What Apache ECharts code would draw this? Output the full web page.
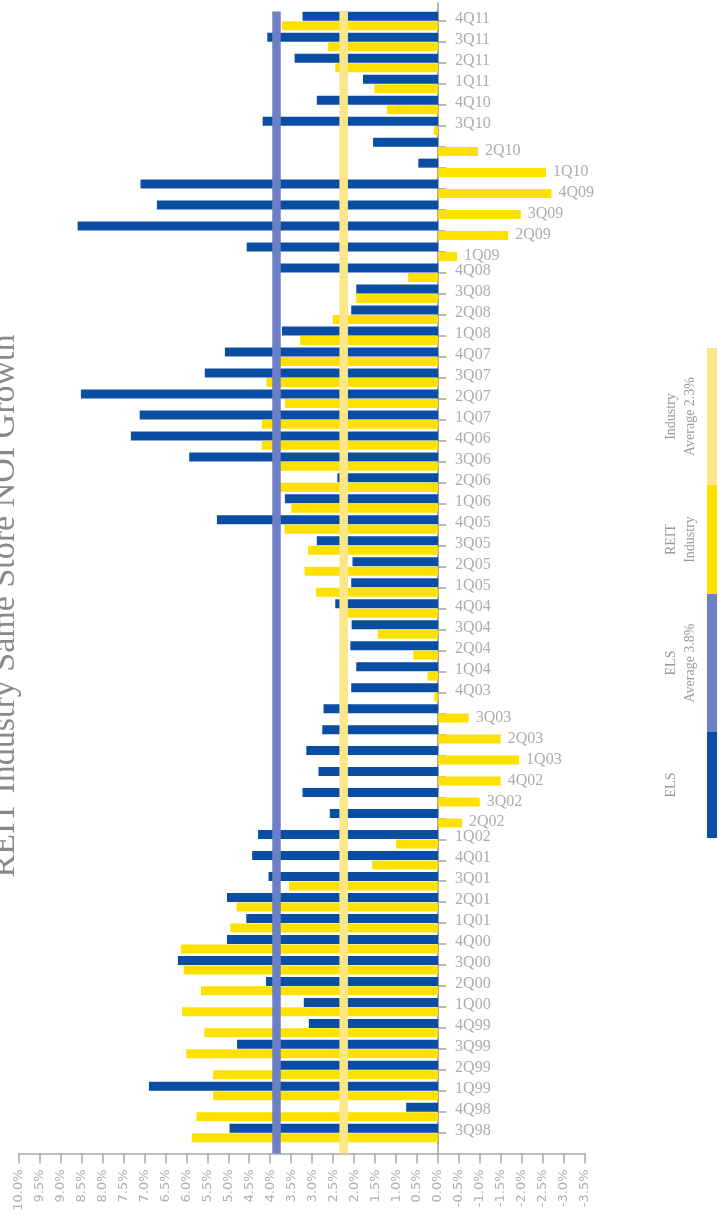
<!DOCTYPE html>
<html><head><meta charset="utf-8">
<script src="https://cdn.jsdelivr.net/npm/echarts@6/dist/echarts.min.js"></script>
<style>html,body{margin:0;padding:0;background:#fff;}#c{width:719px;height:1226px;}</style>
</head><body><div id="c"></div>
<script>
const categories = ['3Q98','4Q98','1Q99','2Q99','3Q99','4Q99','1Q00','2Q00','3Q00','4Q00','1Q01','2Q01','3Q01','4Q01','1Q02','2Q02','3Q02','4Q02','1Q03','2Q03','3Q03','4Q03','1Q04','2Q04','3Q04','4Q04','1Q05','2Q05','3Q05','4Q05','1Q06','2Q06','3Q06','4Q06','1Q07','2Q07','3Q07','4Q07','1Q08','2Q08','3Q08','4Q08','1Q09','2Q09','3Q09','4Q09','1Q10','2Q10','3Q10','4Q10','1Q11','2Q11','3Q11','4Q11'];
const elsGrowth = [4.97,0.76,6.89,3.80,4.79,3.08,3.20,4.10,6.20,5.03,4.57,5.03,4.04,4.43,4.29,2.58,3.23,2.85,3.14,2.76,2.73,2.07,1.95,2.09,2.06,2.45,2.07,2.04,2.89,5.27,3.65,2.40,5.93,7.32,7.11,8.51,5.56,5.08,3.72,2.07,1.95,3.87,4.56,8.59,6.70,7.09,0.47,1.55,4.18,2.89,1.79,3.42,4.07,3.23];
const reitGrowth = [5.87,5.76,5.36,5.36,6.00,5.57,6.10,5.65,6.06,6.13,4.95,4.80,3.55,1.57,1.00,-0.57,-0.99,-1.49,-1.93,-1.49,-0.73,0.09,0.25,0.59,1.44,2.34,2.91,3.18,3.10,3.66,3.50,3.85,3.79,4.20,4.20,3.65,4.09,3.79,3.29,2.51,1.95,0.72,-0.45,-1.67,-1.97,-2.70,-2.57,-0.95,0.10,1.22,1.52,2.45,2.62,3.72];
const elsAverage = 3.85;
const industryAverage = 2.25;
const valueMin = -3.5, valueMax = 10, valueStep = 0.5;
const titleText = 'REIT Industry Same Store NOI Growth';
const legendLabels = [['ELS'], ['ELS','Average 3.8%'], ['REIT','Industry'], ['Industry','Average 2.3%']];

const BLUE = '#0a4ea3', YELLOW = '#ffe100', ELSAVG = '#6e80c5', INDAVG = '#fce68a';
const legendColors = [BLUE, ELSAVG, YELLOW, INDAVG];
const legendSegs = [[732,838],[594,732],[485,594],[348,485]];

function vline(color, width, extTop, extBottom) {
  return function (params, api) {
    const cs = params.coordSys;
    const x = api.coord([api.value(0), 0])[0];
    return {type:'rect', shape:{x:x-width/2, y:cs.y-extTop, width:width, height:cs.height+extTop+extBottom}, style:{fill:color}};
  };
}

const labelData = categories.map((c, i) => {
  const neg = reitGrowth[i] < 0;
  return {value:[neg ? reitGrowth[i] : 0, i], name:c,
    label:{distance: neg ? 7 : 17, offset:[0, neg ? 4 : -2]}};
});

const graphics = [];
legendLabels.forEach((lines, k) => {
  const [y1, y2] = legendSegs[k];
  graphics.push({type:'rect', shape:{x:707, y:y1, width:10, height:y2-y1}, style:{fill:legendColors[k]}});
  const cy = (y1+y2)/2;
  lines.forEach((t, j) => {
    graphics.push({type:'text', x: j===0 ? 671 : 690, y: cy, rotation: Math.PI/2,
      style:{text:t, fill:'#9a9a9a', font:'14px "Liberation Serif"', textAlign:'center', textVerticalAlign:'middle'}});
  });
});
graphics.push({type:'text', x:5, y:606, rotation:Math.PI/2,
  style:{text:titleText, fill:'#8a8a8a', font:'34px "Liberation Serif"', textAlign:'center', textVerticalAlign:'middle'}});

const chart = echarts.init(document.getElementById('c'), null, {renderer:'canvas'});
chart.setOption({
  animation:false,
  backgroundColor:'#fff',
  grid:{left:18.4, right:134, top:10.5, bottom:82.5, containLabel:false},
  xAxis:{type:'value', inverse:true, min:valueMin, max:valueMax, interval:valueStep, offset:10,
    axisLine:{show:true, onZero:false, lineStyle:{color:'#a8a8a8', width:1.5}},
    axisTick:{show:true, length:10, lineStyle:{color:'#a8a8a8', width:1.5}},
    splitLine:{show:false},
    axisLabel:{rotate:90, margin:16, color:'#b0b0b0', fontFamily:'DejaVu Sans', fontSize:13,
      formatter: v => v.toFixed(1) + '%'}},
  yAxis:{type:'category', data:categories, position:'right',
    axisLine:{show:true, onZero:true, lineStyle:{color:'#a0a0a0', width:1.5}},
    axisTick:{show:true, alignWithLabel:true, length:8, lineStyle:{color:'#a0a0a0', width:1.5}},
    axisLabel:{show:false}},
  series:[
    {name:'ELS', type:'bar', data:elsGrowth, barWidth:9, barGap:'5%', itemStyle:{color:BLUE}, z:2},
    {name:'REIT Industry', type:'bar', data:reitGrowth, barWidth:9, barGap:'5%', itemStyle:{color:YELLOW}, z:2},
    {type:'custom', renderItem:vline('#a0a0a0', 1.5, 8, 10), data:[[0,0]], clip:false, z:1, silent:true},
    {type:'custom', renderItem:vline(INDAVG, 8.5, -1, 10), data:[[industryAverage,0]], clip:false, z:5, silent:true},
    {type:'custom', renderItem:vline(ELSAVG, 8.5, -1, 10), data:[[elsAverage,0]], clip:false, z:6, silent:true},
    {type:'scatter', data:labelData, symbolSize:0, z:7, silent:true,
      label:{show:true, position:'right', formatter: p => p.name, color:'#979797',
        fontFamily:'Liberation Serif', fontSize:16}}
  ],
  graphic:graphics
});
</script></body></html>
